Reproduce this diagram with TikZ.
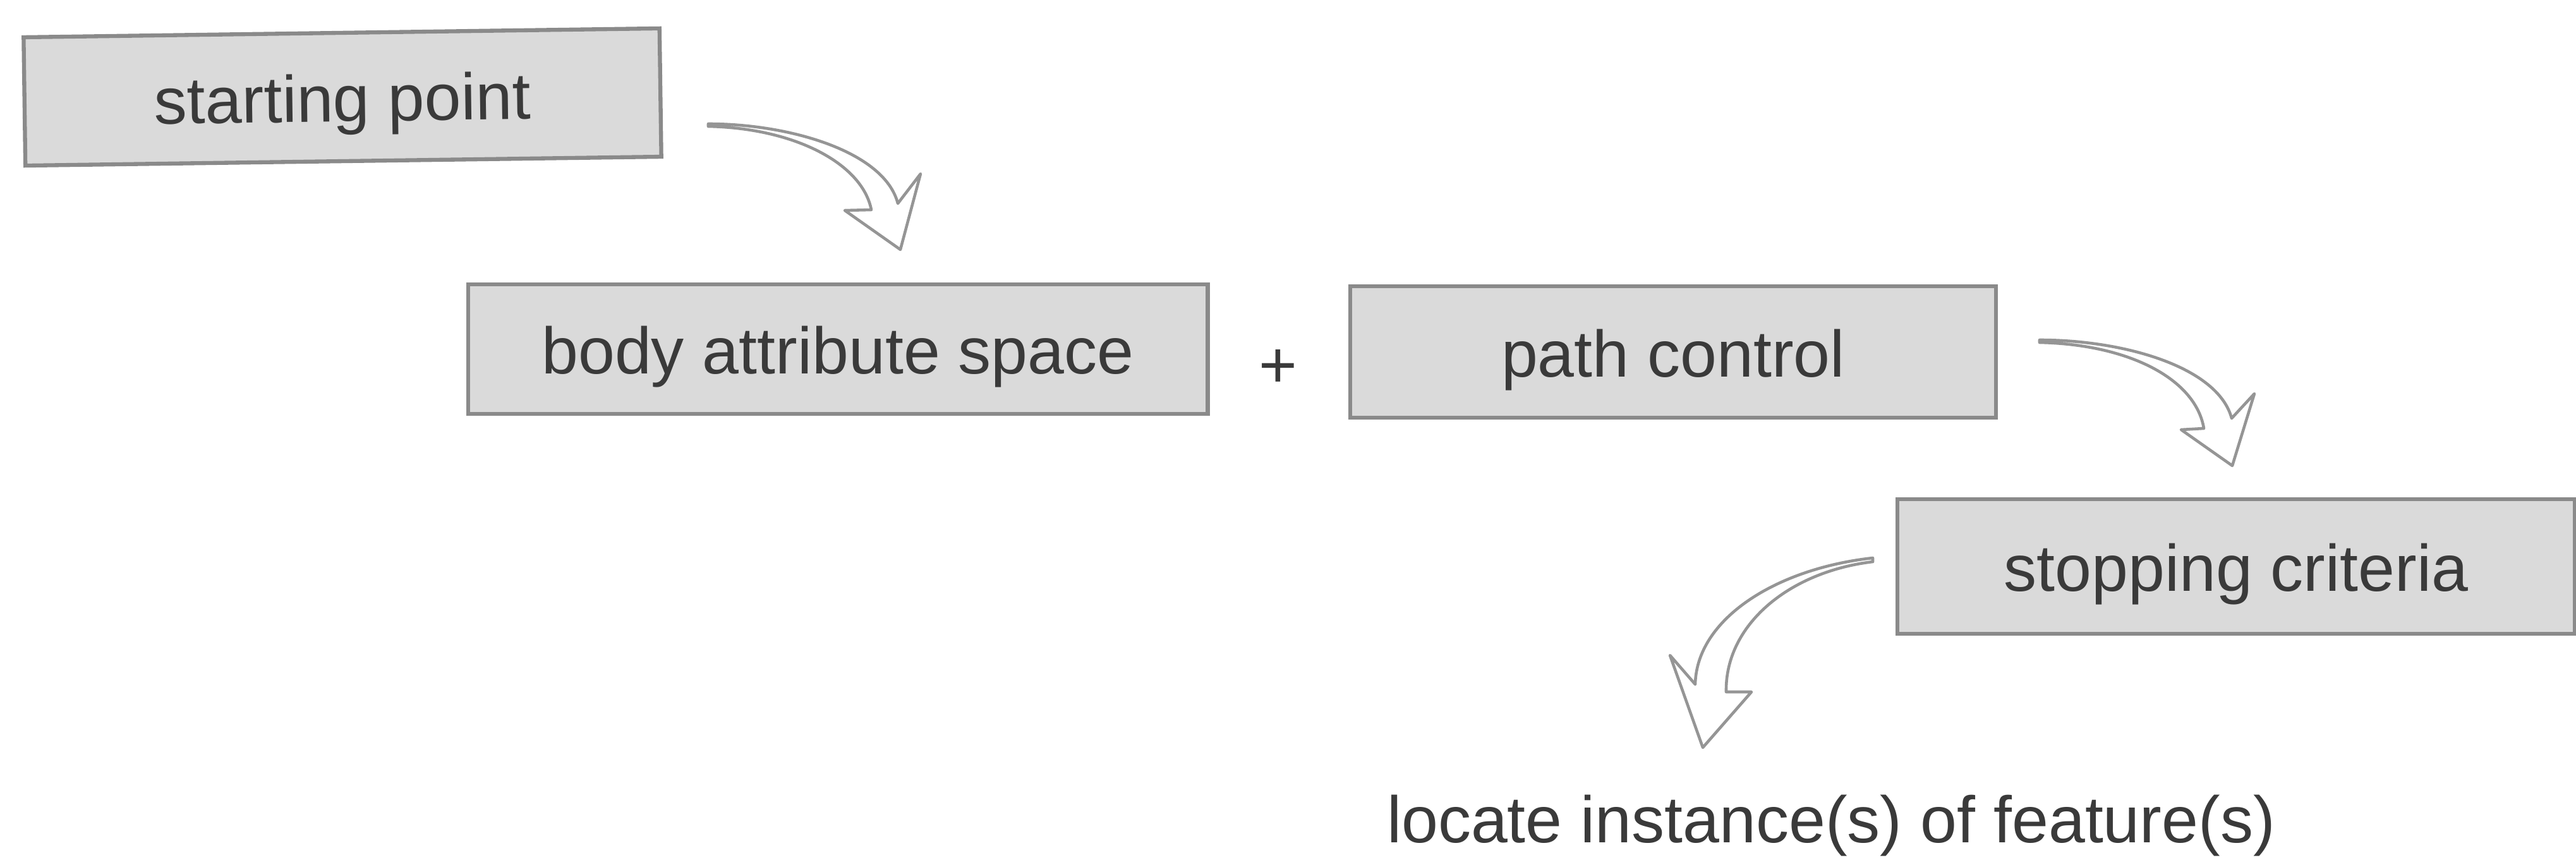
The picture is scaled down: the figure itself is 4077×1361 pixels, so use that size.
\documentclass[tikz,border=0pt]{standalone}
\usepackage{fontspec}
\setmainfont{Liberation Sans}
\definecolor{boxfill}{HTML}{DADADA}
\definecolor{boxline}{HTML}{8A8A8A}
\definecolor{txt}{HTML}{3A3A3A}
\definecolor{arrline}{HTML}{959595}
\begin{document}
\begin{tikzpicture}[x=0.01cm,y=-0.01cm,
  box/.style={draw=boxline, fill=boxfill, line width=1.8pt, inner sep=0pt,
    text=txt, font=\fontsize{29.6pt}{35pt}\selectfont,
    text height=0.78cm, text depth=0cm},
  lbl/.style={text=txt, font=\fontsize{29.6pt}{35pt}\selectfont, inner sep=0pt, anchor=base},
  blockarrow/.style={draw=arrline, fill=white, line width=1.3pt, line join=round}]
\useasboundingbox (0,0) rectangle (4077,1361);
\fill[white] (0,0) rectangle (4077,1361);

% boxes
\node[box, minimum width=10.06cm, minimum height=2.03cm, rotate=0.8] (start) at (542,153.5) {starting point};
\node[box, minimum width=11.70cm, minimum height=2.05cm] (body) at (1326,552.5) {body attribute space};
\node[lbl] (plus) at (2023,614) {+};
\node[box, minimum width=10.22cm, minimum height=2.08cm] (path) at (2648,557) {path control};
\node[box, minimum width=10.72cm, minimum height=2.13cm] (stop) at (3539,896.5) {stopping criteria};
\node[lbl] (locate) at (2898,1333) {locate instance(s) of feature(s)};

% block arrows
\draw[blockarrow] (1121,196) .. controls (1250,196) and (1400,240) .. (1421,322)
  -- (1457,275) -- (1425,395) -- (1337,333) -- (1379,332)
  .. controls (1365,260) and (1260,203) .. (1121,200) -- cycle;
\draw[blockarrow] (3228,538) .. controls (3360,538) and (3510,580) .. (3532,662)
  -- (3568,623) -- (3533,737) -- (3452,680) -- (3488,678)
  .. controls (3475,600) and (3370,545) .. (3228,542) -- cycle;
\draw[blockarrow] (2964,883) .. controls (2810,900) and (2685,980) .. (2683,1083)
  -- (2643,1037) -- (2695,1183) -- (2772,1095) -- (2732,1095)
  .. controls (2730,990) and (2830,905) .. (2964,889) -- cycle;
\end{tikzpicture}
\end{document}
